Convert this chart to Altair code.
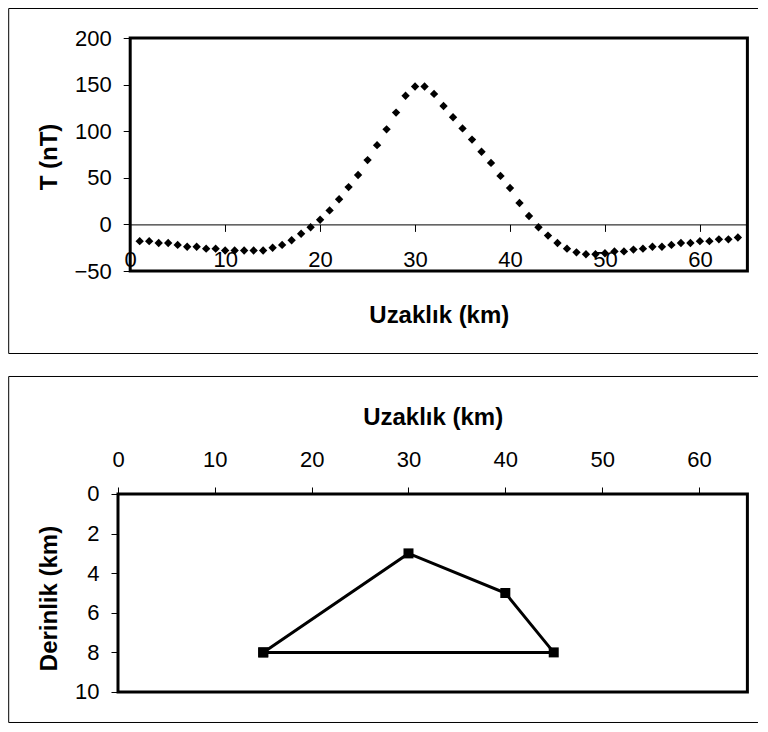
import altair as alt
import pandas as pd

# ---- data ----
x_km = list(range(1, 65))
t_nT = [-18, -18, -20, -20, -22, -24, -24, -26, -26, -28,
        -28, -28, -28, -28, -25, -22, -17, -10, -3, 5,
        15, 27, 40, 53, 69, 85, 102, 120, 138, 148,
        148, 140, 127, 115, 103, 91, 78, 66, 52, 39,
        23, 9, -3, -12, -20, -26, -30, -32, -32, -31,
        -29, -29, -27, -26, -24, -24, -22, -20, -20, -18,
        -18, -16, -16, -14]

poly_x = [15, 30, 40, 45, 15]
poly_z = [8, 3, 5, 8, 8]
poly_order = [0, 1, 2, 3, 4]

x_ticks = [0, 10, 20, 30, 40, 50, 60]
t_ticks = [-50, 0, 50, 100, 150, 200]
z_ticks = [0, 2, 4, 6, 8, 10]

top_df = pd.DataFrame({"x": x_km, "t": t_nT})
poly_df = pd.DataFrame({"x": poly_x, "z": poly_z, "o": poly_order})
one = pd.DataFrame({"k": [0]})

FONT = "Liberation Sans"
LBL = 22
TTL = 24

# both views start at the same left edge; the top panel's plot box is inset
VW = 629.4          # view width (both panels)
INSET = 12.2        # top panel plot box starts this far right of the view edge
H1, H2 = 233, 198
FRAME_L, FRAME_R = -109.3, 640


def frame(left, top, right, bottom):
    base = alt.Chart(one)
    st = dict(color="black", strokeWidth=1)
    t = base.mark_rule(**st).encode(x=alt.value(left), x2=alt.value(right), y=alt.value(top))
    b = base.mark_rule(**st).encode(x=alt.value(left), x2=alt.value(right), y=alt.value(bottom))
    l = base.mark_rule(**st).encode(x=alt.value(left), y=alt.value(top), y2=alt.value(bottom))
    return [t, b, l]


def plot_box(x0, x1, h):
    return alt.Chart(one).mark_rect(
        fill=None, fillOpacity=0, stroke="black", strokeWidth=3
    ).encode(x=alt.value(x0), x2=alt.value(x1), y=alt.value(0), y2=alt.value(h))


common_axis = dict(
    labelFont=FONT, labelFontSize=LBL, labelColor="black",
    titleFont=FONT, titleFontSize=TTL, titleFontWeight="bold", titleColor="black",
    tickColor="black", tickWidth=1, tickSize=7, grid=False,
    labelFlush=False, labelOverlap=False,
)

W1 = VW - INSET
pts = alt.Chart(top_df).mark_point(
    shape="diamond", filled=True, color="black", size=70, opacity=1
).encode(
    x=alt.X("x:Q",
            scale=alt.Scale(domain=[0, 65], nice=False, zero=False, range=[INSET, VW]),
            axis=alt.Axis(values=x_ticks, orient="bottom", offset=-46.6,
                          domain=True, domainColor="black", domainWidth=1,
                          labelPadding=18, title="Uzaklık (km)",
                          titleX=INSET + W1 / 2, titleY=91, titleBaseline="middle",
                          **common_axis)),
    y=alt.Y("t:Q",
            scale=alt.Scale(domain=[-50, 200], nice=False, zero=False),
            axis=alt.Axis(values=t_ticks, domain=False, labelPadding=12, offset=-INSET,
                          title="T (nT)", titleX=-80.5, titleY=H1 / 2 + 2,
                          titleAngle=270, titleBaseline="middle", titleAlign="center",
                          **common_axis)),
)

top = alt.layer(
    pts, plot_box(INSET, VW, H1), *frame(FRAME_L, -29.5, FRAME_R, 315.5)
).properties(width=VW, height=H1)

xb = alt.X("x:Q",
           scale=alt.Scale(domain=[0, 65], nice=False, zero=False),
           axis=alt.Axis(values=x_ticks, orient="top", domain=False,
                         labelPadding=15, title="Uzaklık (km)",
                         titleX=VW / 2, titleY=-76, titleBaseline="middle",
                         **common_axis))
yb = alt.Y("z:Q",
           scale=alt.Scale(domain=[0, 10], nice=False, zero=False, reverse=True),
           axis=alt.Axis(values=z_ticks, domain=False, labelPadding=12,
                         title="Derinlik (km)", titleX=-68.3, titleY=H2 / 2 + 5,
                         titleAngle=270, titleBaseline="middle", titleAlign="center",
                         **common_axis))

line = alt.Chart(poly_df).mark_line(color="black", strokeWidth=3).encode(
    x=xb, y=yb, order="o:Q")
sq = alt.Chart(poly_df).mark_point(
    shape="square", filled=True, color="black", size=100, opacity=1
).encode(x=xb, y=yb)

bottom = alt.layer(
    line, sq, plot_box(0, VW, H2), *frame(FRAME_L, -117.5, FRAME_R, 228.5)
).properties(width=VW, height=H2)

chart = alt.vconcat(top, bottom, spacing=22).properties(
    padding=0, background="white"
).configure_view(strokeWidth=0)

chart.save("out.html", embed_options={"renderer": "svg", "actions": False})
